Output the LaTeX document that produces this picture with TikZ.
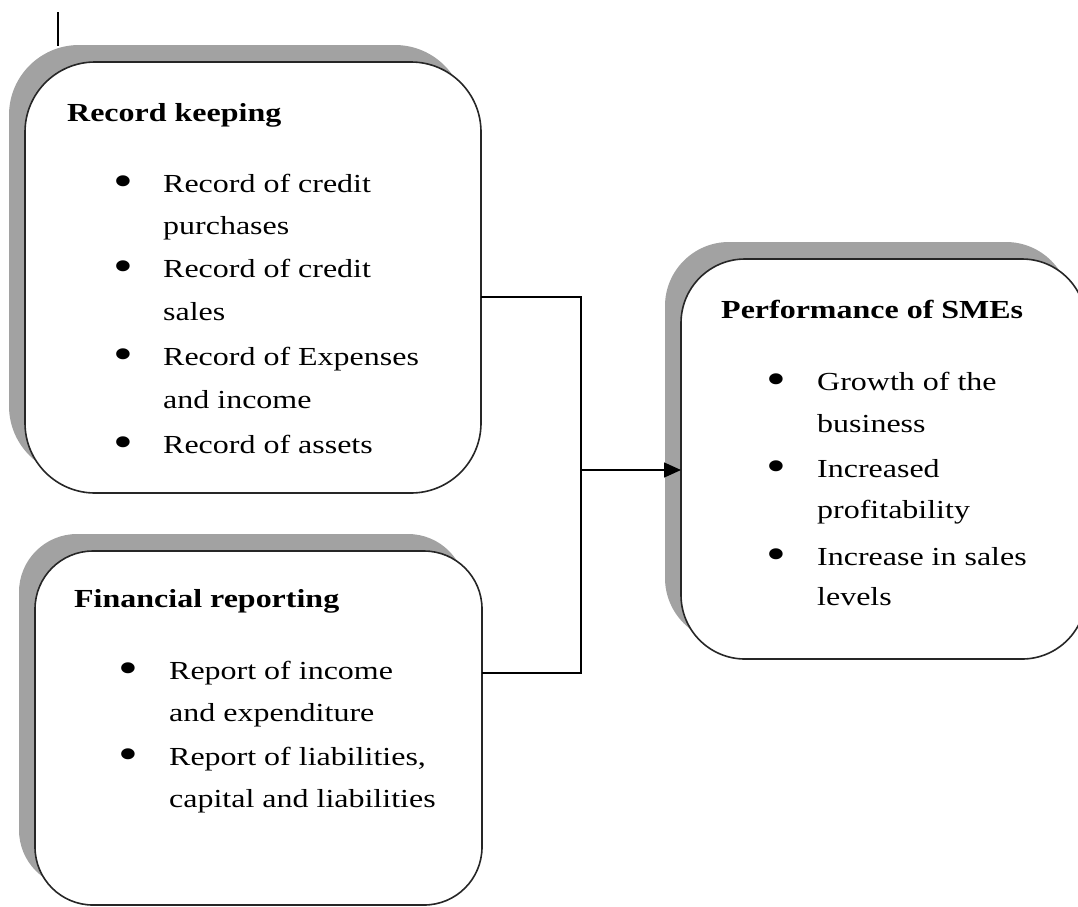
\documentclass[tikz,border=0pt]{standalone}
\usepackage{fontspec}
\setmainfont{Liberation Serif}[FakeStretch=1.23]
\usetikzlibrary{shadows,arrows.meta}
\definecolor{shadowgray}{HTML}{A2A2A2}
\definecolor{edgegray}{HTML}{262626}
\begin{document}
\begin{tikzpicture}[x=1pt,y=-1pt,
  box/.style={draw=edgegray, line width=1.6pt, fill=white, rounded corners=#1,
    inner sep=0pt, outer sep=0pt, anchor=north west,
    general shadow={fill=shadowgray, draw=none, shadow xshift=-16pt, shadow yshift=17pt}},
  conn/.style={draw=black, line width=1.5pt},
  txt/.style={anchor=base west, inner sep=0pt, font=\fontsize{26}{43}\selectfont},
  ttl/.style={txt, font=\fontsize{26}{43}\selectfont\bfseries},
  bul/.style={anchor=base, inner sep=0pt, font=\fontsize{46}{46}\selectfont}]
\useasboundingbox (0,0) rectangle (1078,906);
\clip (0,0) rectangle (1078,906);
% marker line at top
\coordinate (mk1) at (58,12);
\coordinate (mk2) at (58,46);
\draw[conn] (mk1) -- (mk2);
% boxes
\node[box=70, minimum width=456pt, minimum height=431pt] (rk) at (25,62) {};
\node[box=58, minimum width=447pt, minimum height=354pt] (fr) at (35,551) {};
\node[box=64, minimum width=405pt, minimum height=400pt] (pf) at (681,259) {};
% Record keeping
\node[ttl] (rkT) at (67,121) {Record keeping};
\node[bul] (rkb1) at (123,196.5) {•};
\node[txt] (rk1a) at (163,192) {Record of credit};
\node[txt] (rk1b) at (163,234) {purchases};
\node[bul] (rkb2) at (123,281.5) {•};
\node[txt] (rk2a) at (163,277) {Record of credit};
\node[txt] (rk2b) at (163,320) {sales};
\node[bul] (rkb3) at (123,369.5) {•};
\node[txt] (rk3a) at (163,365) {Record of Expenses};
\node[txt] (rk3b) at (163,408) {and income};
\node[bul] (rkb4) at (123,457.5) {•};
\node[txt] (rk4a) at (163,453) {Record of assets};
% Financial reporting
\node[ttl] (frT) at (74,607) {Financial reporting};
\node[bul] (frb1) at (128,683.5) {•};
\node[txt] (fr1a) at (169,679) {Report of income};
\node[txt] (fr1b) at (169,721) {and expenditure};
\node[bul] (frb2) at (128,769.5) {•};
\node[txt] (fr2a) at (169,765) {Report of liabilities,};
\node[txt] (fr2b) at (169,807) {capital and liabilities};
% Performance of SMEs
\node[ttl] (pfT) at (721,318) {Performance of SMEs};
\node[bul] (pfb1) at (776,394.5) {•};
\node[txt] (pf1a) at (817,390) {Growth of the};
\node[txt] (pf1b) at (817,432) {business};
\node[bul] (pfb2) at (776,481.5) {•};
\node[txt] (pf2a) at (817,477) {Increased};
\node[txt] (pf2b) at (817,518) {profitability};
\node[bul] (pfb3) at (776,569.5) {•};
\node[txt] (pf3a) at (817,565) {Increase in sales};
\node[txt] (pf3b) at (817,605) {levels};
% connectors
\coordinate (j1) at (581,297);
\coordinate (j2) at (581,673);
\coordinate (jm) at (581,470);
\draw[conn] (rk.east |- j1) -- (j1) -- (j2) -- (fr.east |- j2);
\draw[conn, -{Triangle[length=17pt,width=15pt]}] (jm) -- (pf.west |- jm);
\end{tikzpicture}
\end{document}
